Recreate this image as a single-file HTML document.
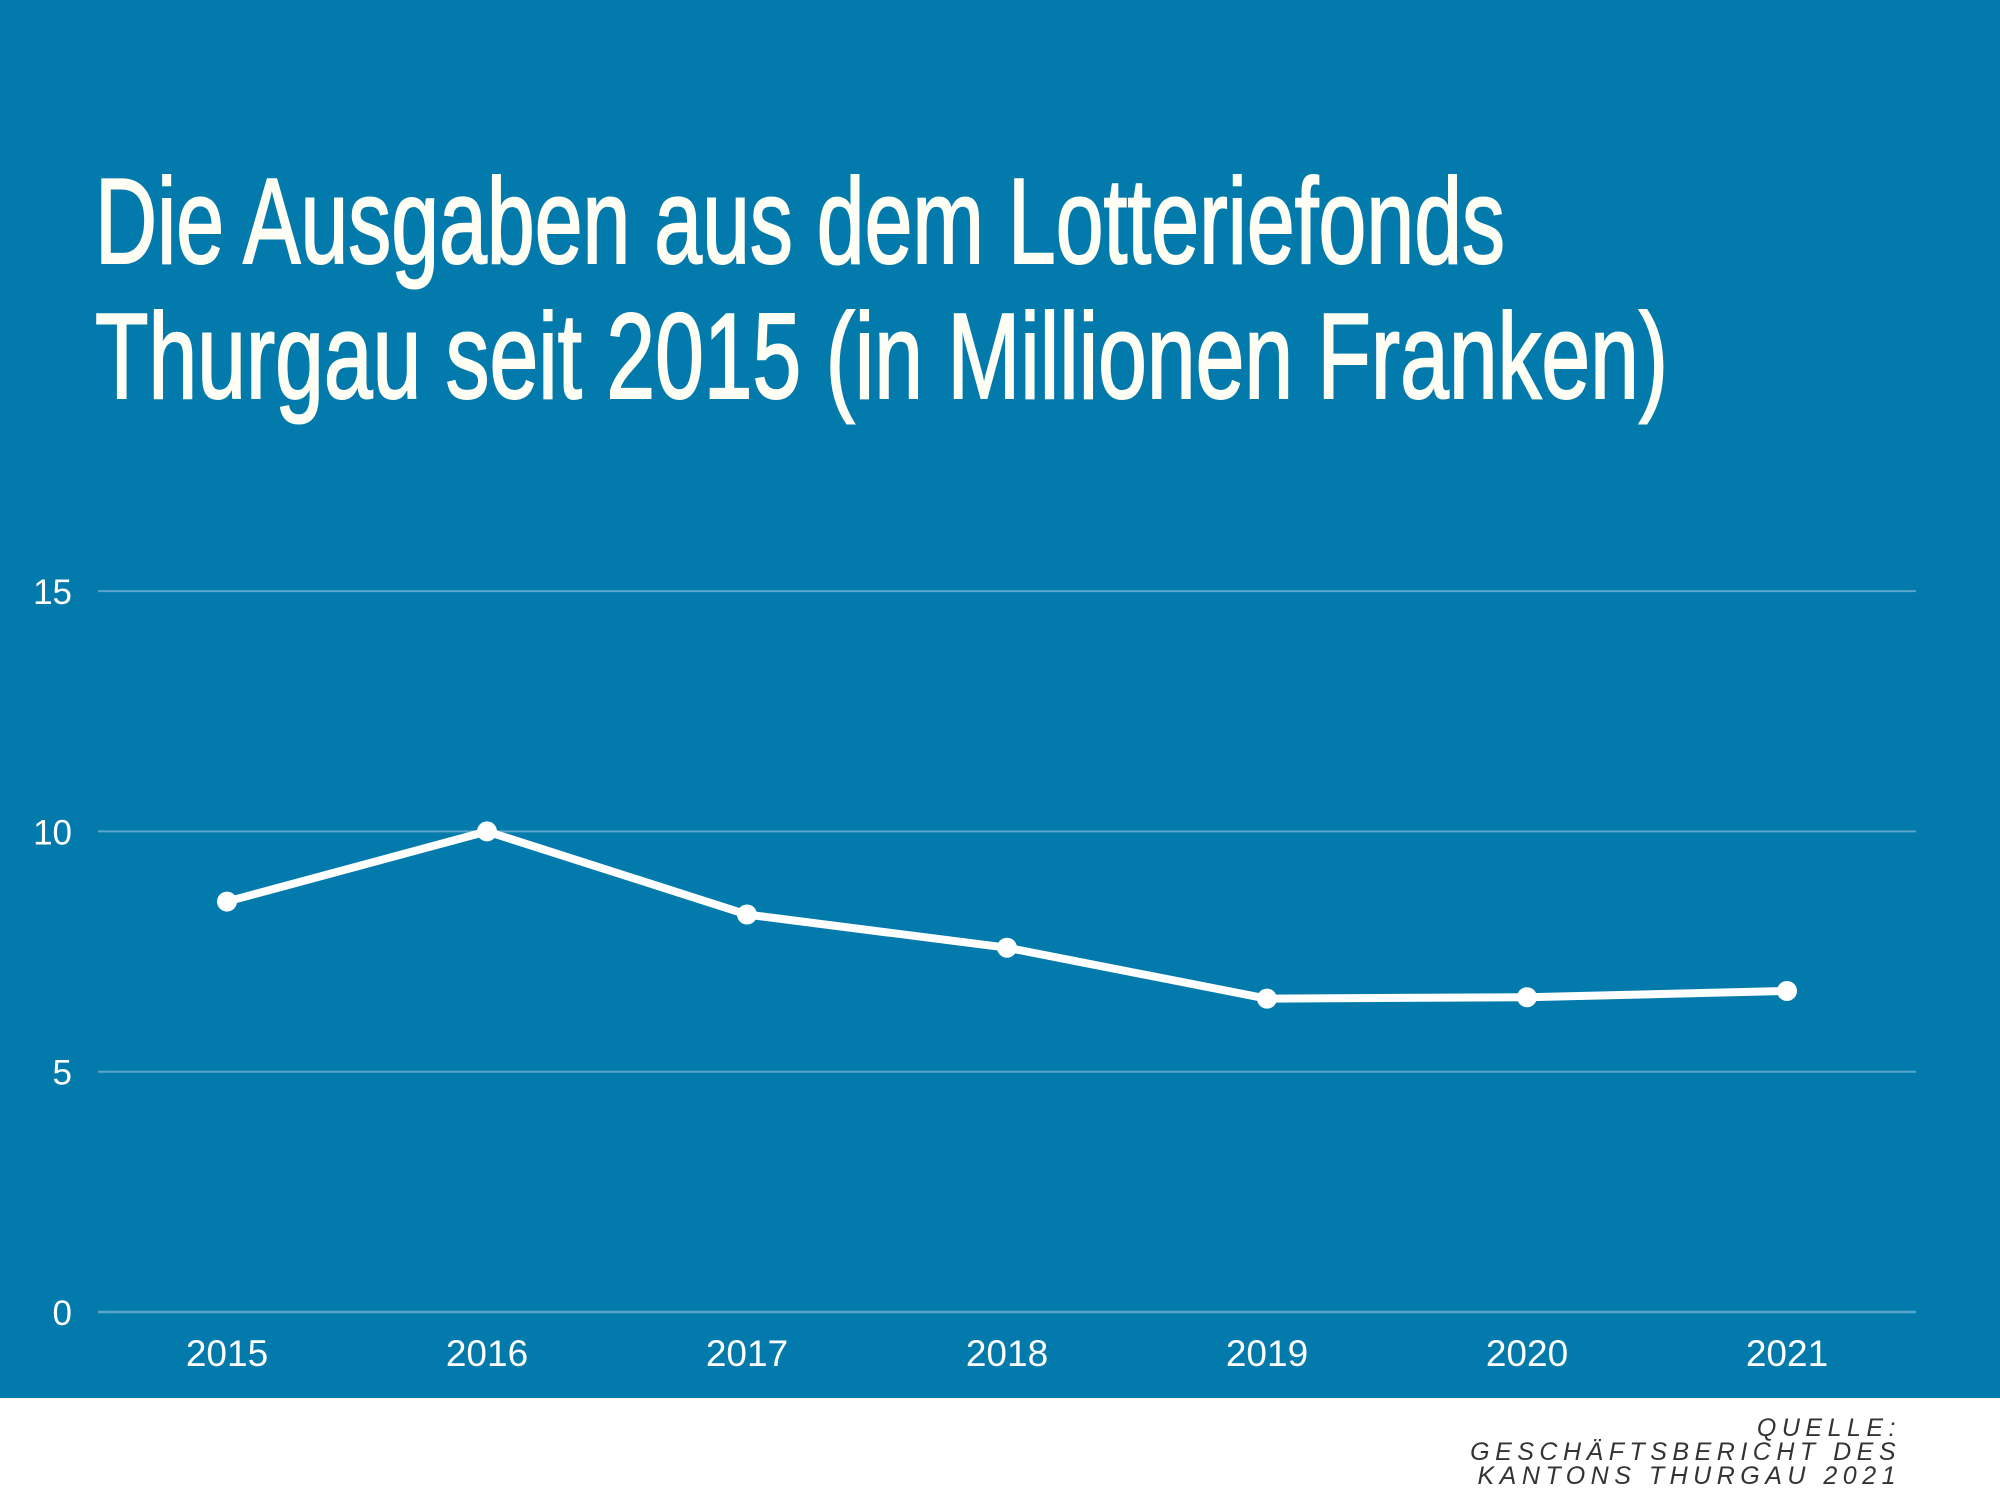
<!DOCTYPE html>
<html><head><meta charset="utf-8"><style>
html,body{margin:0;padding:0;width:2000px;height:1500px;overflow:hidden;background:#fff}
svg{display:block}
</style></head><body>
<svg width="2000" height="1500" viewBox="0 0 2000 1500">
<rect x="0" y="0" width="2000" height="1398" fill="#027bac"/>
<g font-family="'Liberation Sans Narrow','Liberation Sans',sans-serif" fill="#fffef4" stroke="#fffef4" stroke-width="2" font-size="122">
<text x="95" y="263" textLength="1410" lengthAdjust="spacingAndGlyphs">Die Ausgaben aus dem Lotteriefonds</text>
<text x="95" y="398" textLength="1573" lengthAdjust="spacingAndGlyphs">Thurgau seit 2015 (in Millionen Franken)</text>
</g>
<g id="grid"></g>
<g id="yt" font-family="'Liberation Sans',sans-serif" font-size="35" fill="#fff" text-anchor="end"></g>
<g id="xt" font-family="'Liberation Sans',sans-serif" font-size="37" fill="#fff" text-anchor="middle"></g>
<path id="line" fill="none" stroke="#fff" stroke-width="8" stroke-linejoin="round"/>
<g id="pts" fill="#fff"></g>
<g font-family="'Liberation Sans',sans-serif" font-style="italic" font-size="25" fill="#333" text-anchor="end">
<text x="1901" y="1436" letter-spacing="5.5">QUELLE:</text>
<text x="1901" y="1460" letter-spacing="5.5">GESCHÄFTSBERICHT DES</text>
<text x="1901" y="1484" letter-spacing="5.5">KANTONS THURGAU 2021</text>
</g>
</svg>
<script>
const categories=["2015","2016","2017","2018","2019","2020","2021"];
const values=[8.54,10.0,8.27,7.58,6.52,6.55,6.68];
const yTicks=[0,5,10,15];
const NS="http://www.w3.org/2000/svg";
const x0=227,xStep=260,y0=1312,yPer=48.06;
function xs(i){return x0+i*xStep;}
function ys(v){return y0-v*yPer;}
const grid=document.getElementById('grid'),yt=document.getElementById('yt'),xt=document.getElementById('xt'),pts=document.getElementById('pts');
yTicks.forEach(t=>{
  const l=document.createElementNS(NS,'line');
  l.setAttribute('x1',98);l.setAttribute('x2',1916);l.setAttribute('y1',ys(t));l.setAttribute('y2',ys(t));
  l.setAttribute('stroke','#5aa6c8');l.setAttribute('stroke-width',t===0?2.5:2);
  
  
  grid.appendChild(l);
  const tx=document.createElementNS(NS,'text');
  tx.setAttribute('x',72);tx.setAttribute('y',ys(t)+13);tx.textContent=t;
  
  
  yt.appendChild(tx);
});
categories.forEach((c,i)=>{
  const tx=document.createElementNS(NS,'text');
  tx.setAttribute('x',xs(i));tx.setAttribute('y',1366);tx.textContent=c;
  
  
  xt.appendChild(tx);
});
document.getElementById('line').setAttribute('d',values.map((v,i)=>(i?'L':'M')+xs(i)+','+ys(v)).join(' '));
values.forEach((v,i)=>{
  const c=document.createElementNS(NS,'circle');
  c.setAttribute('cx',xs(i));c.setAttribute('cy',ys(v));c.setAttribute('r',10);
  
  
  pts.appendChild(c);
});
</script>
</body></html>
